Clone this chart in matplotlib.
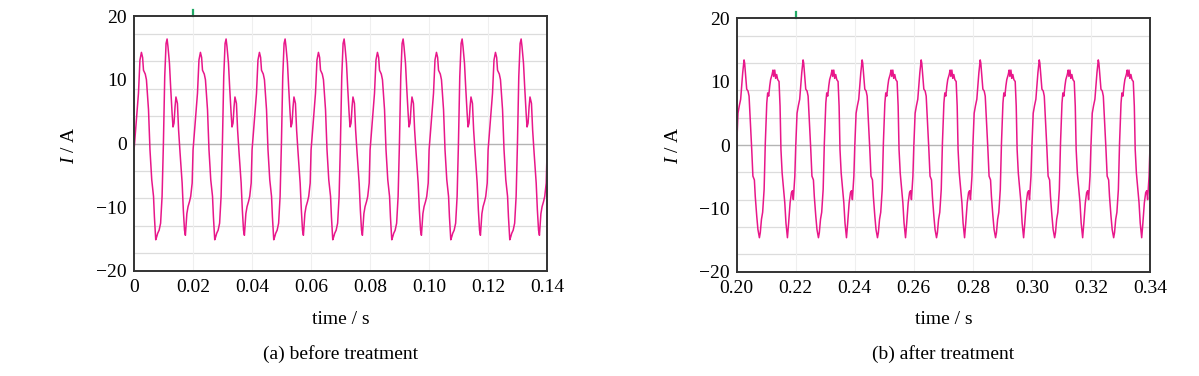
"""
Current waveform before / after treatment (two panels)
"""

import numpy as np
import matplotlib
matplotlib.use("Agg")
import matplotlib.pyplot as plt
from matplotlib.transforms import blended_transform_factory

plt.rcParams['font.family'] = ['Liberation Serif', 'DejaVu Serif']
plt.rcParams['mathtext.fontset'] = 'custom'
plt.rcParams['mathtext.rm'] = 'Liberation Serif'
plt.rcParams['mathtext.it'] = 'Liberation Serif:italic'

# one 20 ms cycle (ms offset, current in A); the trace repeats it
before_cycle_ms = [0.0, 0.7, 1.5, 2.0, 2.5, 2.9, 3.2, 3.8, 4.2, 4.9, 5.4, 6.0, 6.6, 6.9,
                   7.35, 7.7, 8.0, 8.5, 9.0, 9.5, 9.95, 10.4, 10.85, 11.2, 11.5, 12.0,
                   12.4, 12.9, 13.2, 13.55, 13.9, 14.2, 14.7, 15.1, 15.6, 16.3, 16.7,
                   17.1, 17.4, 17.9, 18.3, 18.8, 19.2, 19.7]
before_cycle_A = [-1.0, 3.2, 7.9, 13.1, 14.3, 13.5, 11.5, 10.9, 10.0, 5.3, -1.0, -5.7, -8.3, -11.5,
                  -15.1, -14.6, -14.1, -13.6, -12.5, -8.3, 0.0, 10.5, 15.7, 16.4, 15.2, 12.6,
                  8.9, 4.7, 2.6, 3.2, 5.8, 7.3, 6.3, 2.1, -1.5, -6.2, -10.4,
                  -13.6, -14.4, -11.0, -9.9, -9.1, -8.3, -6.2]

after_cycle_ms = [0.0, 0.45, 0.9, 1.35, 1.7, 2.05, 2.5, 2.7, 3.05, 3.4, 3.85, 4.2, 4.6, 5.1,
                  5.5, 6.0, 6.3, 6.8, 7.2, 7.7, 8.0, 8.4, 8.8, 9.3, 9.7, 10.2, 10.5, 10.85,
                  11.2, 11.5, 12.0, 12.3, 12.55, 12.9, 13.2, 13.55, 13.9, 14.35, 14.7, 15.0,
                  15.4, 15.8, 16.3, 16.7, 17.2, 17.6, 18.1, 18.55, 18.9, 19.2, 19.7]
after_cycle_A = [-0.3, 5.0, 6.2, 7.2, 9.3, 11.4, 13.4, 12.9, 10.8, 8.8, 8.5, 7.7, 4.0, -0.7,
                 -4.9, -5.5, -8.1, -11.2, -13.3, -14.6, -13.8, -11.7, -10.6, -7.0, 0.3, 6.6, 8.2, 7.7,
                 9.3, 10.3, 11.1, 11.8, 10.8, 11.8, 10.5, 11.1, 10.3, 10.0, 6.1, -0.7,
                 -4.4, -6.5, -9.1, -12.3, -14.6, -12.3, -9.1, -7.5, -7.2, -8.6, -4.9]

n_cycles = 7
t_start = [0.0, 0.20]
xticks = [[0, 0.02, 0.04, 0.06, 0.08, 0.10, 0.12, 0.14],
          [0.20, 0.22, 0.24, 0.26, 0.28, 0.30, 0.32, 0.34]]
xticklabels = [['0', '0.02', '0.04', '0.06', '0.08', '0.10', '0.12', '0.14'],
               ['0.20', '0.22', '0.24', '0.26', '0.28', '0.30', '0.32', '0.34']]
yticks = [-20, -10, 0, 10, 20]
ygrid = [-17.2, -12.9, -8.6, -4.3, 4.3, 8.6, 12.9, 17.2]
captions = ['(a) before treatment', '(b) after treatment']
marker_t = [0.02, 0.22]


def build_trace(cyc_ms, cyc_a, t0):
    t = []
    y = []
    for k in range(n_cycles):
        for ms, a in zip(cyc_ms, cyc_a):
            t.append(t0 + k * 0.02 + ms / 1000.0)
            y.append(a)
    t.append(t0 + n_cycles * 0.02)
    y.append(cyc_a[0])
    return np.array(t), np.array(y)


fig = plt.figure(figsize=(11.99, 3.76), dpi=100)
positions = [[0.1118, 0.2793, 0.3445, 0.678], [0.6144, 0.2766, 0.3447, 0.6755]]
ylabel_x = [70 / 1199, 673 / 1199]
data = [(before_cycle_ms, before_cycle_A), (after_cycle_ms, after_cycle_A)]

for i in range(2):
    ax = fig.add_axes(positions[i])
    t, y = build_trace(data[i][0], data[i][1], t_start[i])

    for g in ygrid:
        ax.axhline(g, color='#dcdcdc', lw=0.9, zorder=0)
    ax.axhline(0, color='#b4b4b4', lw=1.0, zorder=0)
    for xv in xticks[i][1:-1]:
        ax.axvline(xv, color='#efefef', lw=0.8, zorder=0)

    ax.plot(t, y, color='#e8178a', lw=1.1, zorder=2)

    ax.set_xlim(xticks[i][0], xticks[i][-1])
    ax.set_ylim(-20, 20)
    ax.set_xticks(xticks[i])
    ax.set_xticklabels(xticklabels[i])
    ax.set_yticks(yticks)
    ax.set_yticklabels(['\u221220', '\u221210', '0', '10', '20'])
    ax.tick_params(length=0, labelsize=14, pad=5)
    ax.tick_params(axis='x', pad=6)
    for sp in ax.spines.values():
        sp.set_color('#333333')
        sp.set_linewidth(1.4)

    # small green marker above the top spine
    trans = blended_transform_factory(ax.transData, ax.transAxes)
    ax.plot([marker_t[i], marker_t[i]], [1.0, 1.025], color='#22aa66', lw=1.6,
            transform=trans, clip_on=False)

    cx = positions[i][0] + positions[i][2] / 2
    fig.text(cx, 1 - 320 / 376, 'time / s', ha='center', va='center', fontsize=14)
    fig.text(cx, 1 - 354 / 376, captions[i], ha='center', va='center', fontsize=14)
    fig.text(ylabel_x[i], 1 - 145 / 376, '$I$ / A', ha='center', va='center',
             fontsize=14, rotation=90)

fig.savefig('out.png', dpi=100)
